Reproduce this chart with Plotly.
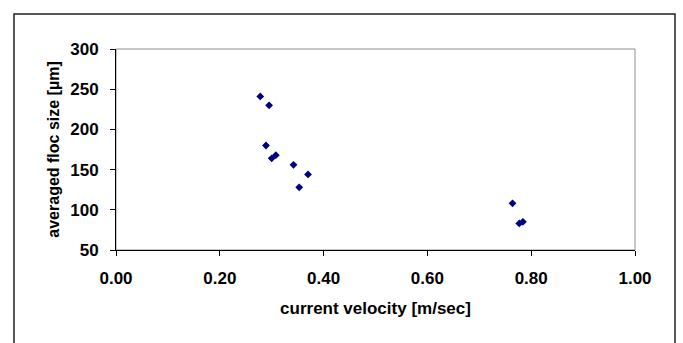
import plotly.graph_objects as go

velocity = [0.278, 0.295, 0.289, 0.300, 0.308, 0.342, 0.370, 0.353, 0.764, 0.777, 0.784]
floc_size = [241, 230, 180, 164, 168, 156, 144, 128, 108, 83, 85]

x_ticks = [0.0, 0.2, 0.4, 0.6, 0.8, 1.0]
x_tick_labels = ["0.00", "0.20", "0.40", "0.60", "0.80", "1.00"]
y_ticks = [50, 100, 150, 200, 250, 300]

W, H = 683, 343
L, R, T, B = 116, 635, 49, 250

fig = go.Figure()
fig.add_trace(go.Scatter(
    x=velocity, y=floc_size, mode="markers",
    marker=dict(symbol="diamond", size=6, color="#000080"),
    showlegend=False,
))

tick_font = dict(family="Liberation Sans, Arial", size=17, color="black")
xtitle_font = dict(family="Liberation Sans, Arial", size=17, color="black")
ytitle_font = dict(family="Liberation Sans, Arial", size=16, color="black")

fig.update_layout(
    width=W, height=H,
    margin=dict(l=L, r=W - R, t=T, b=H - B),
    paper_bgcolor="white", plot_bgcolor="white",
    xaxis=dict(
        range=[0, 1], tickvals=x_ticks, ticktext=[f"<b>{t}</b>" for t in x_tick_labels],
        tickfont=tick_font,
        showgrid=False, zeroline=False, showline=True, linecolor="black", linewidth=1,
        ticks="outside", ticklen=5, tickcolor="black", ticklabelstandoff=8,
        title=dict(text="<b>current velocity [m/sec]</b>", font=xtitle_font, standoff=14),
    ),
    yaxis=dict(
        range=[50, 300], tickvals=y_ticks, ticktext=[f"<b>{t}</b>" for t in y_ticks],
        tickfont=tick_font,
        showgrid=False, zeroline=False, showline=True, linecolor="black", linewidth=1,
        ticks="outside", ticklen=5, tickcolor="black", ticklabelstandoff=8,
        title=dict(text="<b>averaged floc size [µm]</b>", font=ytitle_font, standoff=6),
    ),
    shapes=[
        dict(type="rect", xref="paper", yref="paper", x0=0, x1=1, y0=0, y1=1,
             line=dict(color="#909090", width=1), layer="below"),
        dict(type="rect", xref="paper", yref="paper",
             x0=(14 - L) / (R - L), x1=(675 - L) / (R - L),
             y0=(B - 360) / (B - T), y1=(B - 14) / (B - T),
             line=dict(color="#222222", width=1.5), layer="below"),
    ],
)

fig.write_html("out.html")
